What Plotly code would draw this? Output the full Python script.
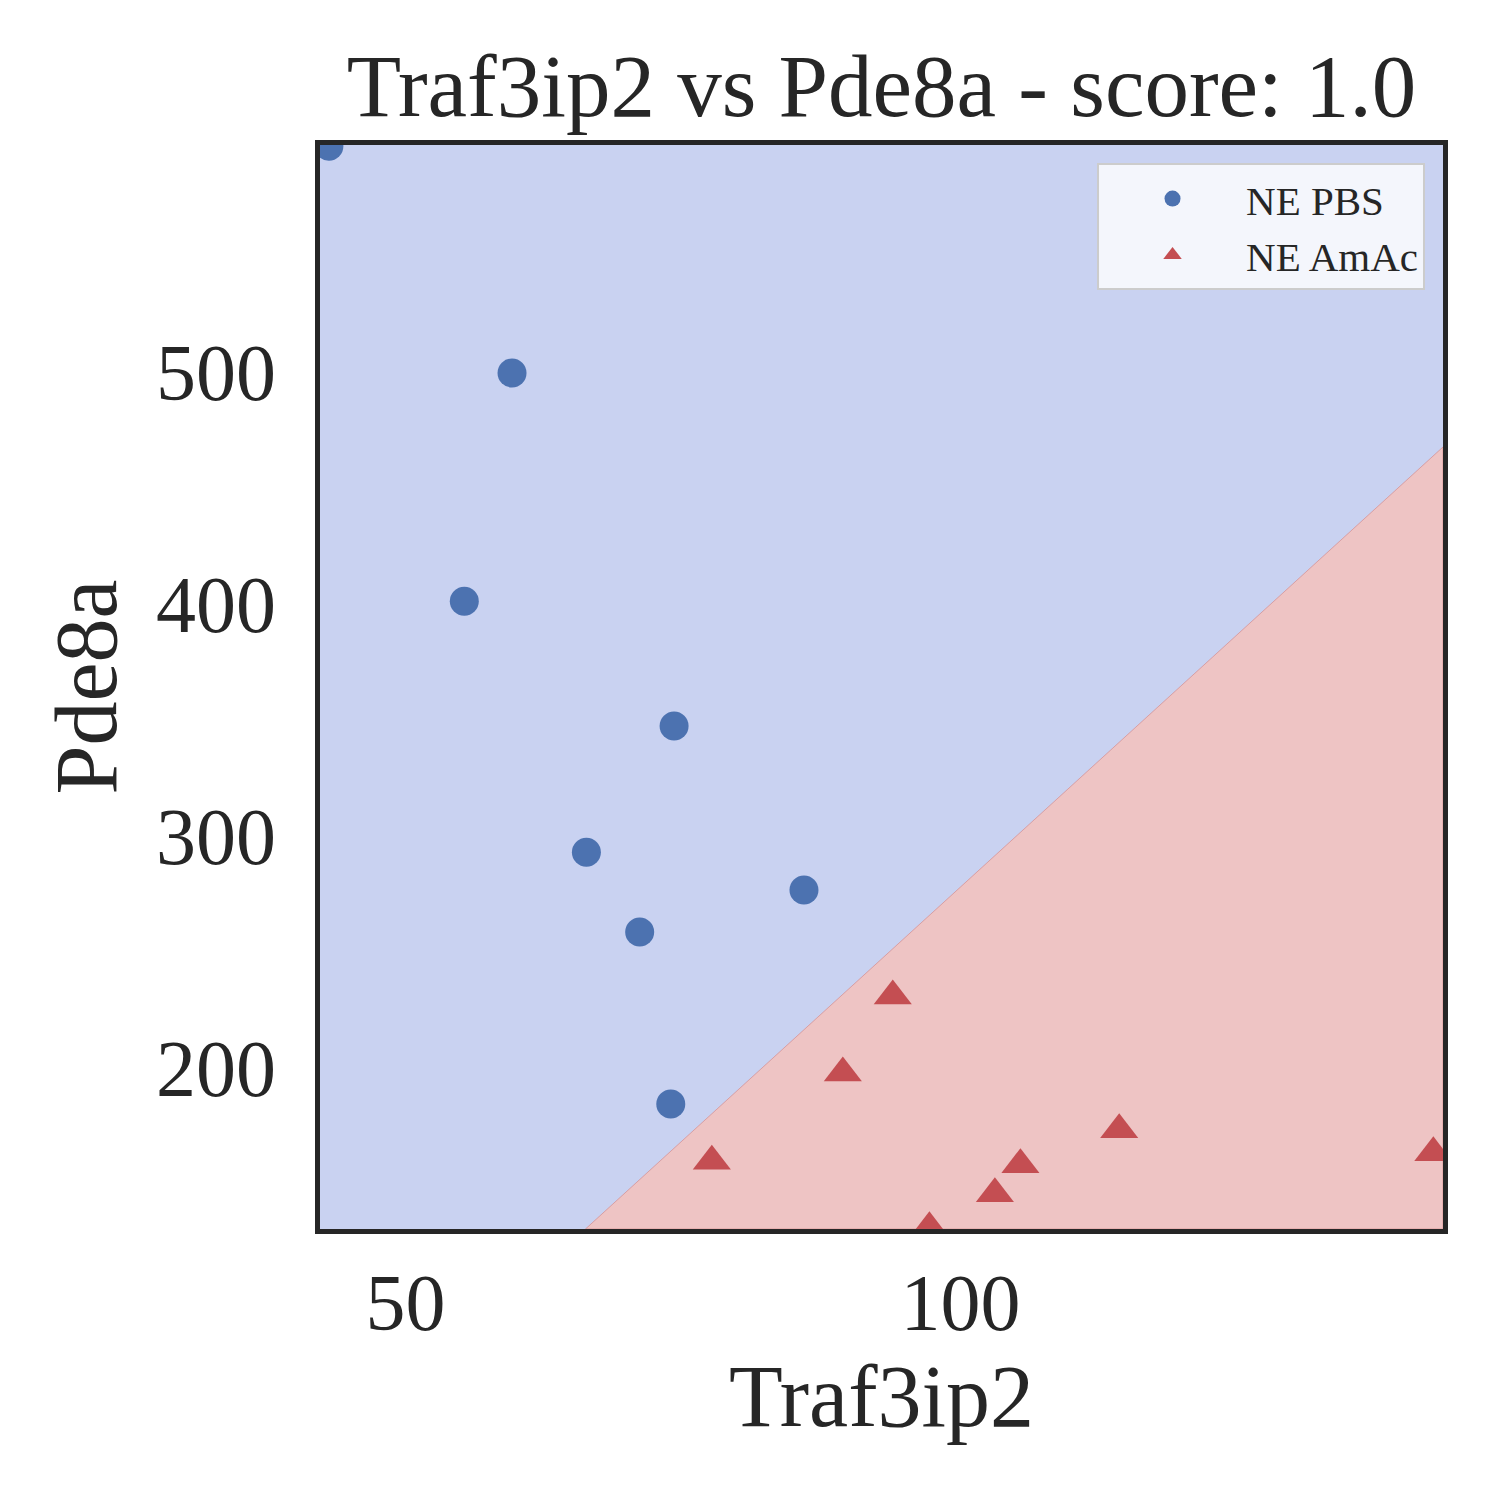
import plotly.graph_objects as go

# NE PBS samples
pbs_x = [43.1, 59.6, 55.3, 74.2, 66.3, 71.1, 85.9, 73.9]
pbs_y = [597.1, 499.4, 401.1, 347.3, 293.0, 258.6, 276.7, 184.5]

# NE AmAc samples
amac_x = [77.6, 89.4, 93.9, 97.2, 103.1, 105.4, 114.3, 142.6]
amac_y = [159.9, 197.9, 231.1, 131.2, 145.9, 158.4, 173.4, 163.5]

# decision boundary: Pde8a = slope * Traf3ip2 + intercept
boundary_slope = 4.36
boundary_intercept = -158.0

x_range = [42.3, 143.47]
y_range = [130.7, 597.6]

x_ticks = [50, 100]
y_ticks = [200, 300, 400, 500]

font = "Liberation Serif"
ink = "#262626"

# red region polygon, clipped to the axis box
def line_y(x):
    return boundary_slope * x + boundary_intercept

x_bottom = (y_range[0] - boundary_intercept) / boundary_slope
red_x = [x_bottom, x_range[1], x_range[1], x_bottom]
red_y = [y_range[0], line_y(x_range[1]), y_range[0], y_range[0]]

fig = go.Figure()
fig.add_trace(go.Scatter(x=red_x, y=red_y, mode='lines', fill='toself',
                         fillcolor='#EEC4C4', line=dict(color='rgba(214,140,140,0.7)', width=1),
                         showlegend=False, hoverinfo='skip'))
fig.add_trace(go.Scatter(x=pbs_x, y=pbs_y, mode='markers', name='NE PBS',
                         marker=dict(symbol='circle', size=29, color='#4C72B0')))
fig.add_trace(go.Scatter(x=amac_x, y=amac_y, mode='markers', name='NE AmAc',
                         marker=dict(symbol='triangle-up', size=33, color='#C44E52')))

# page body has an 8px margin, so shift the plot area back
fig.update_layout(
    width=1500, height=1500,
    margin=dict(l=312, r=65, t=137, b=279),
    paper_bgcolor='white',
    plot_bgcolor='#C9D2F1',
    font=dict(family=font, color=ink),
    title=dict(text='Traf3ip2 vs Pde8a - score: 1.0', font=dict(size=89, color=ink),
               x=0.5, xref='paper', xanchor='center',
               y=1, yref='paper', yanchor='bottom', pad=dict(b=29)),
    legend=dict(x=0.984, y=0.983, xanchor='right', yanchor='top',
                bgcolor='rgba(255,255,255,0.8)', bordercolor='#CCCCCC', borderwidth=2,
                font=dict(size=41, family=font, color=ink), itemsizing='trace',
                itemwidth=137, tracegroupgap=0),
)
fig.update_xaxes(range=x_range, tickvals=x_ticks, showgrid=False, zeroline=False,
                 showline=True, linecolor=ink, linewidth=5, mirror=True,
                 ticks='', ticklabelstandoff=0, tickfont=dict(size=80),
                 title=dict(text='Traf3ip2', font=dict(size=88), standoff=20))
fig.update_yaxes(range=y_range, tickvals=y_ticks, showgrid=False, zeroline=False,
                 showline=True, linecolor=ink, linewidth=5, mirror=True,
                 ticks='', ticklabelstandoff=23, tickfont=dict(size=80),
                 title=dict(text='Pde8a', font=dict(size=88), standoff=12))

fig.write_html("out.html")
